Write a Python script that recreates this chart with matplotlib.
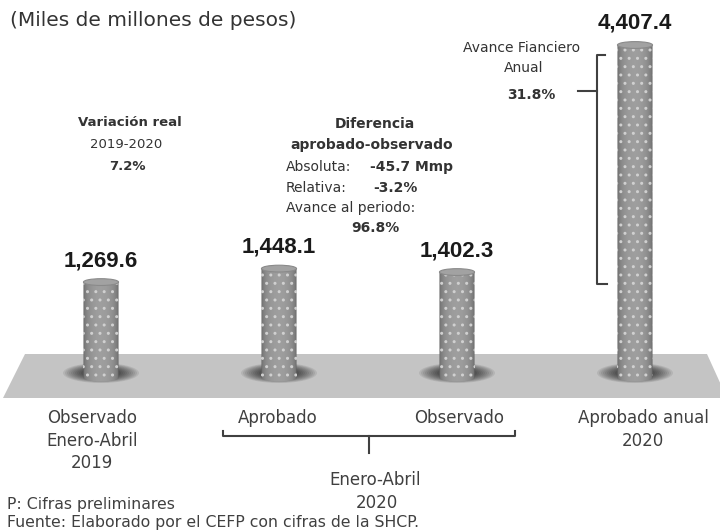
import numpy as np
import matplotlib.pyplot as plt
from matplotlib.patches import Polygon, Ellipse, PathPatch
from matplotlib.path import Path
from matplotlib.transforms import Affine2D

# datos (miles de millones de pesos)
categories = [['Observado', 'Enero-Abril', '2019'], ['Aprobado'], ['Observado'], ['Aprobado anual', '2020']]
values = [1269.6, 1448.1, 1402.3, 4407.4]
value_labels = ['1,269.6', '1,448.1', '1,402.3', '4,407.4']

W, H = 720, 532
fig = plt.figure(figsize=(W / 100, H / 100), dpi=100)
ax = fig.add_axes([0, 0, 1, 1])
ax.set_axis_off()
ax.set_facecolor('none')
# pixel coords measured from the top-left corner of the picture
pix = Affine2D().scale(1 / W, -1 / H).translate(0, 1) + fig.transFigure

TXT = '#333333'

xs = np.arange(len(values))
bw = 0.197
cap = 90  # height of the cylinder cap in data units

# floor
ax.add_patch(Polygon([(25, 354), (707, 354), (727, 398), (3, 398)], closed=True,
                     facecolor='#c4c4c4', edgecolor='none', transform=pix, zorder=1))

# shadows at the base of each cylinder
for i in xs:
    px = 101 + 178 * i
    for k in range(10):
        ax.add_patch(Ellipse((px, 373), 76 - 4 * k, 20 - 1.1 * k, facecolor='black',
                             edgecolor='none', alpha=0.08, transform=pix, zorder=2))

# cylinders
t = np.linspace(-1, 1, 60)
shade = 0.38 + 0.24 * np.sqrt(1 - t ** 2)
grad = np.repeat(shade[None, :, None], 3, axis=2)
for i, v in zip(xs, values):
    x0, x1 = i - bw / 2, i + bw / 2
    im = ax.imshow(grad, extent=[x0, x1, -cap, v], aspect='auto', zorder=3,
                   interpolation='bilinear')
    ang = np.linspace(np.pi, 2 * np.pi, 40)
    verts = [(x0, v)] + [(i + bw / 2 * np.cos(a), cap / 2 * np.sin(a)) for a in ang] + [(x1, v), (x0, v)]
    clip = Path(verts, closed=True)
    im.set_clip_path(PathPatch(clip, transform=ax.transData))
    ax.add_patch(Ellipse((i, v), bw, cap, facecolor='#a2a2a2', edgecolor='#8a8a8a',
                         linewidth=0.8, zorder=5))

# white dots on the cylinders
ax.bar(xs, values, bw, facecolor='none', edgecolor='#d0d0d0', hatch='..', linewidth=0, zorder=4)

for i, v, lab in zip(xs, values, value_labels):
    ax.annotate(lab, (i, v), xytext=(0, 15.5), textcoords='offset points', ha='center',
                va='center', fontsize=16, fontweight='bold', family='Liberation Sans',
                color='#1a1a1a')

ax.set_xlim(-101 / 178, (W - 101) / 178)
ax.set_ylim(-2038, 5003)


def put(x, y, s, size=10, weight='normal', ha='center', color=TXT):
    ax.text(x, y, s, transform=pix, ha=ha, va='center', fontsize=size,
            fontweight=weight, color=color)


put(10, 20, '(Miles de millones de pesos)', size=14.5, ha='left')

put(130, 122, 'Variación real', size=9.5, weight='bold')
put(126, 145, '2019-2020', size=9.5)
put(127, 166, '7.2%', size=9.5, weight='bold')

put(375, 124, 'Diferencia', weight='bold')
put(372, 145, 'aprobado-observado', weight='bold')
put(286, 167, 'Absoluta:', ha='left')
put(370, 167, '-45.7 Mmp', ha='left', weight='bold')
put(286, 188, 'Relativa:', ha='left')
put(373, 188, '-3.2%', ha='left', weight='bold')
put(286, 208, 'Avance al periodo:', ha='left')
put(375, 228, '96.8%', weight='bold')

put(522, 48, 'Avance Fianciero')
put(524, 68, 'Anual')
put(531, 95, '31.8%', weight='bold')

line = dict(color='#404040', linewidth=1.5, transform=pix, zorder=6)
ax.plot([605, 597, 597, 607], [55, 55, 284, 284], **line)
ax.plot([578, 597], [91, 91], **line)

# category labels
label_x = [92, 278, 459, 643]
for lx, lines in zip(label_x, categories):
    for k, s in enumerate(lines):
        put(lx, 418 + 22.5 * k, s, size=12, color='#404040')

ax.plot([223, 223, 515, 515], [431, 436, 436, 431], **line)
ax.plot([369, 369], [436, 453], **line)
put(375, 480, 'Enero-Abril', size=12, color='#404040')
put(377, 503, '2020', size=12, color='#404040')

put(7, 505, 'P: Cifras preliminares', size=11.3, ha='left', color='#404040')
put(7, 523, 'Fuente: Elaborado por el CEFP con cifras de la SHCP.', size=11.3, ha='left',
    color='#404040')

fig.savefig('out.png', dpi=100)
